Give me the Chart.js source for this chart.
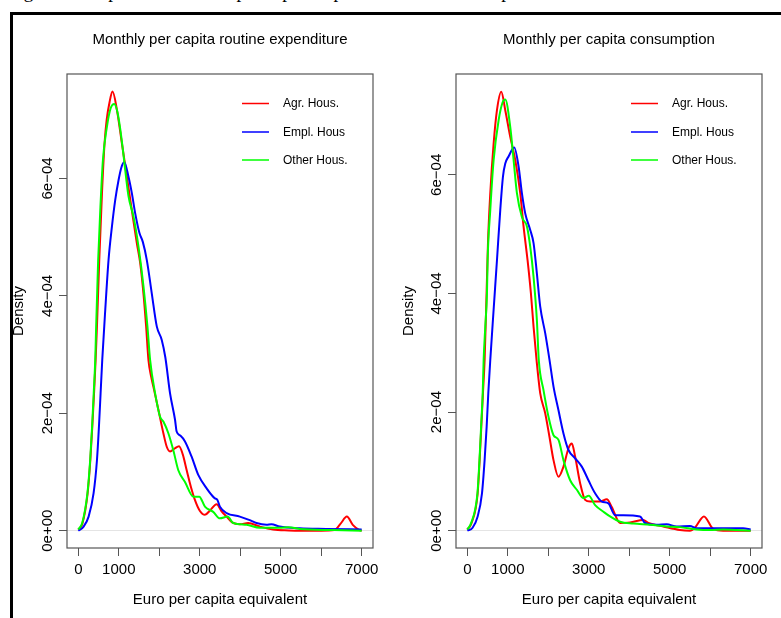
<!DOCTYPE html>
<html>
<head>
<meta charset="utf-8">
<title>Monthly per capita expenditure and consumption</title>
<script src="https://cdn.jsdelivr.net/npm/chart.js"></script>
<style>
  body { margin: 0; background: #fff; width: 781px; height: 618px; overflow: hidden; position: relative; }
  #caption { position: absolute; left: 8px; top: -18px; font: 19px/19px "Liberation Serif", "Times New Roman", serif; white-space: nowrap; color: #000; }
  #frame { position: absolute; left: 10px; top: 12px; width: 800px; height: 700px; border-left: 3px solid #000; border-top: 3px solid #000; z-index: 2; }
  canvas { position: absolute; top: 0; }
  #expChart { left: 0; }
  #conChart { left: 390px; }
</style>
</head>
<body>
<div id="caption">Figure 3: Empirical curves of per capita expenditure and consumption</div>
<div id="frame"></div>
<canvas id="expChart" width="390" height="618"></canvas>
<canvas id="conChart" width="391" height="618"></canvas>
<script>
// axis ticks
const xTicks = [0, 1000, 2000, 3000, 4000, 5000, 6000, 7000];
const xTickLabels = ['0', '1000', '', '3000', '', '5000', '', '7000'];
const yTicks = [0, 2e-4, 4e-4, 6e-4];
const yTickLabels = ['0e+00', '2e\u221204', '4e\u221204', '6e\u221204'];
const yUnit = 1e-4; // density values below are in units of 1e-4

const groups = ['Agr. Hous.', 'Empl. Hous', 'Other Hous.'];
const colours = ['#ff0000', '#0000ff', '#00ff00'];

// Monthly per capita routine expenditure
const expAgrX = [0,100,230,296,345,388,427,460,517,584,648,700,771,845,953,1076,1199,1322,1445,1530,1609,1675,1732,1800,1855,1978,2101,2184,2266,2380,2488,2580,2677,2780,2882,3000,3128,3260,3416,3540,3662,3800,3990,4195,4483,4811,5200,5468,6000,6330,6480,6634,6780,6946,7000];
const expAgrY = [0.02,0.12,0.64,1.20,1.77,2.34,2.91,3.48,4.61,5.75,6.60,7.00,7.30,7.48,7.17,6.60,6.03,5.46,4.90,4.55,4.04,3.48,2.91,2.62,2.45,2.06,1.66,1.43,1.35,1.40,1.44,1.30,1.03,0.75,0.52,0.34,0.27,0.35,0.45,0.33,0.24,0.14,0.11,0.13,0.07,0.02,0.005,0,0,0.01,0.12,0.24,0.10,0.01,0];
const expEmpX = [0,131,254,377,460,509,550,591,665,746,830,911,993,1060,1133,1239,1322,1404,1510,1593,1692,1815,1938,2061,2150,2266,2389,2429,2520,2635,2799,2963,3170,3374,3431,3498,3662,3990,4236,4401,4648,4771,4975,5468,6125,7000];
const expEmpY = [0,0.07,0.24,0.64,1.20,1.77,2.34,2.91,3.76,4.61,5.18,5.63,5.97,6.18,6.28,6.03,5.75,5.41,5.07,4.92,4.61,4.04,3.48,3.25,2.95,2.34,1.89,1.69,1.62,1.52,1.26,0.95,0.72,0.55,0.53,0.41,0.30,0.24,0.18,0.13,0.10,0.11,0.07,0.04,0.03,0.02];
const expOthX = [0,100,225,292,340,380,418,440,465,490,542,608,706,800,887,960,1034,1116,1239,1363,1486,1610,1707,1773,1897,2020,2101,2224,2347,2470,2635,2840,2988,3128,3333,3498,3687,3826,4155,4483,4975,5181,5468,6289,7000];
const expOthY = [0.02,0.14,0.64,1.20,1.77,2.34,2.91,3.48,4.04,4.61,5.46,6.32,6.88,7.20,7.27,7.15,6.85,6.40,5.70,5.35,4.84,4.16,3.48,2.91,2.34,1.94,1.86,1.66,1.37,1.03,0.83,0.58,0.58,0.41,0.32,0.21,0.24,0.13,0.10,0.05,0.05,0.06,0.03,0.01,0];

// Monthly per capita consumption
const conAgrX = [0,100,255,304,345,386,427,475,510,567,650,732,838,937,1060,1184,1307,1389,1488,1571,1636,1710,1800,1924,2030,2129,2252,2375,2499,2581,2663,2787,2910,3033,3280,3445,3568,3773,4020,4348,4471,4841,5253,5500,5622,5845,6074,6321,7000];
const conAgrY = [0.02,0.12,0.63,1.19,1.75,2.32,2.88,4.00,4.85,5.69,6.53,7.09,7.40,7.09,6.64,6.25,5.69,5.13,4.56,4.00,3.44,2.88,2.32,1.98,1.58,1.19,0.91,1.08,1.39,1.47,1.25,0.80,0.52,0.49,0.49,0.53,0.40,0.13,0.14,0.18,0.13,0.07,0.01,0,0.05,0.24,0.03,0,0];
const conEmpX = [0,130,255,362,427,477,518,567,649,732,814,880,937,1019,1159,1266,1348,1430,1554,1636,1718,1800,1924,2030,2129,2252,2375,2499,2663,2828,2992,3157,3322,3485,3650,3855,4266,4390,4678,4925,5171,5500,5665,6158,6814,7000];
const conEmpY = [0,0.05,0.24,0.63,1.19,1.75,2.32,2.88,3.72,4.56,5.41,5.97,6.19,6.31,6.46,6.14,5.69,5.35,5.07,4.85,4.34,3.78,3.33,2.88,2.43,2.03,1.64,1.36,1.22,1.08,0.85,0.63,0.49,0.46,0.26,0.26,0.24,0.13,0.10,0.11,0.07,0.08,0.04,0.04,0.04,0.02];
const conOthX = [0,100,250,300,340,380,403,444,485,501,567,650,773,870,937,1060,1143,1225,1348,1472,1554,1636,1718,1765,1882,2005,2129,2252,2375,2540,2705,2868,3001,3157,3362,3527,3773,4101,4513,4925,5253,5665,6000,6321,7000];
const conOthY = [0.02,0.14,0.63,1.19,1.75,2.32,2.88,3.44,4.00,4.56,5.41,6.25,6.92,7.22,7.27,6.81,6.25,5.69,5.29,5.13,4.79,4.28,3.55,2.88,2.37,1.92,1.61,1.53,1.19,0.85,0.69,0.55,0.59,0.43,0.32,0.24,0.15,0.12,0.10,0.07,0.06,0.02,0.01,0.02,0];

const font = '"Liberation Sans", Arial, Helvetica, sans-serif';

function pts(xs, ys) {
    return xs.map((x, i) => ({ x: x, y: ys[i] * yUnit }));
}

// box, rotated y labels and legend the way R draws them
const rStyle = {
    id: 'rStyle',
    afterDraw(chart) {
        const ctx = chart.ctx;
        const a = chart.chartArea;
        const y = chart.scales.y;
        ctx.save();
        ctx.strokeStyle = '#555';
        ctx.lineWidth = 1.2;
        ctx.strokeRect(a.left, a.top, a.right - a.left, a.bottom - a.top);

        ctx.fillStyle = '#000';
        ctx.font = '15px ' + font;
        ctx.textAlign = 'center';
        ctx.textBaseline = 'alphabetic';
        yTicks.forEach((v, i) => {
            ctx.save();
            ctx.translate(a.left - 15.5, y.getPixelForValue(v));
            ctx.rotate(-Math.PI / 2);
            ctx.fillText(yTickLabels[i], 0, 0);
            ctx.restore();
        });

        const rows = [29.5, 58, 86];
        ctx.font = '12px ' + font;
        ctx.textAlign = 'left';
        ctx.textBaseline = 'middle';
        ctx.lineWidth = 1.5;
        groups.forEach((g, i) => {
            const ly = a.top + rows[i];
            ctx.strokeStyle = colours[i];
            ctx.beginPath();
            ctx.moveTo(a.left + 175, ly);
            ctx.lineTo(a.left + 202, ly);
            ctx.stroke();
            ctx.fillText(g, a.left + 216, ly + 0.5);
        });
        ctx.restore();
    }
};

function densityChart(id, title, series, box) {
    const datasets = series.map((s, i) => ({
        label: groups[i],
        data: pts(s[0], s[1]),
        borderColor: colours[i],
        borderWidth: 2,
        pointRadius: 0,
        fill: false,
        cubicInterpolationMode: 'monotone',
        order: [2, 1, 0][i]
    }));
    return new Chart(document.getElementById(id), {
        type: 'line',
        data: { datasets: datasets },
        plugins: [rStyle],
        options: {
            responsive: false,
            animation: false,
            devicePixelRatio: 1,
            layout: { padding: { left: 8, right: box.right, top: 0, bottom: 0 } },
            plugins: {
                legend: { display: false },
                tooltip: { enabled: false },
                title: {
                    display: true,
                    fullSize: false,
                    text: title,
                    color: '#000',
                    font: { family: font, size: 15, weight: 'normal' },
                    padding: { top: 30.5, bottom: 25.5 }
                }
            },
            scales: {
                x: {
                    type: 'linear',
                    min: -280,
                    max: 7280,
                    afterBuildTicks: s => { s.ticks = xTicks.map(v => ({ value: v })); },
                    afterFit: s => { s.height = 70; },
                    border: { display: false },
                    grid: { color: 'rgba(0,0,0,0)', tickColor: '#555', tickLength: 8, drawOnChartArea: false },
                    ticks: {
                        autoSkip: false, maxRotation: 0, padding: 5, color: '#000',
                        font: { family: font, size: 15 },
                        callback: (v, i) => xTickLabels[i]
                    },
                    title: {
                        display: true, text: 'Euro per capita equivalent', color: '#000',
                        font: { family: font, size: 15 }, padding: { top: 0, bottom: 9.5 }
                    }
                },
                y: {
                    type: 'linear',
                    min: box.ymin,
                    max: box.ymax,
                    afterBuildTicks: s => { s.ticks = yTicks.map(v => ({ value: v })); },
                    afterFit: s => { s.width = box.yw; },
                    border: { display: false },
                    grid: {
                        color: c => (c.tick && c.tick.value === 0) ? '#e4e4e4' : 'rgba(0,0,0,0)',
                        tickColor: '#555', tickLength: 8
                    },
                    ticks: { display: false },
                    title: {
                        display: true, text: 'Density', color: '#000',
                        font: { family: font, size: 15 }, padding: { top: 2, bottom: 0 }
                    }
                }
            }
        }
    });
}

densityChart('expChart', 'Monthly per capita routine expenditure',
    [[expAgrX, expAgrY], [expEmpX, expEmpY], [expOthX, expOthY]],
    { right: 17, yw: 59, ymin: -2.95e-5, ymax: 7.78e-4 });
densityChart('conChart', 'Monthly per capita consumption',
    [[conAgrX, conAgrY], [conEmpX, conEmpY], [conOthX, conOthY]],
    { right: 19, yw: 58, ymin: -2.92e-5, ymax: 7.70e-4 });
</script>
</body>
</html>
